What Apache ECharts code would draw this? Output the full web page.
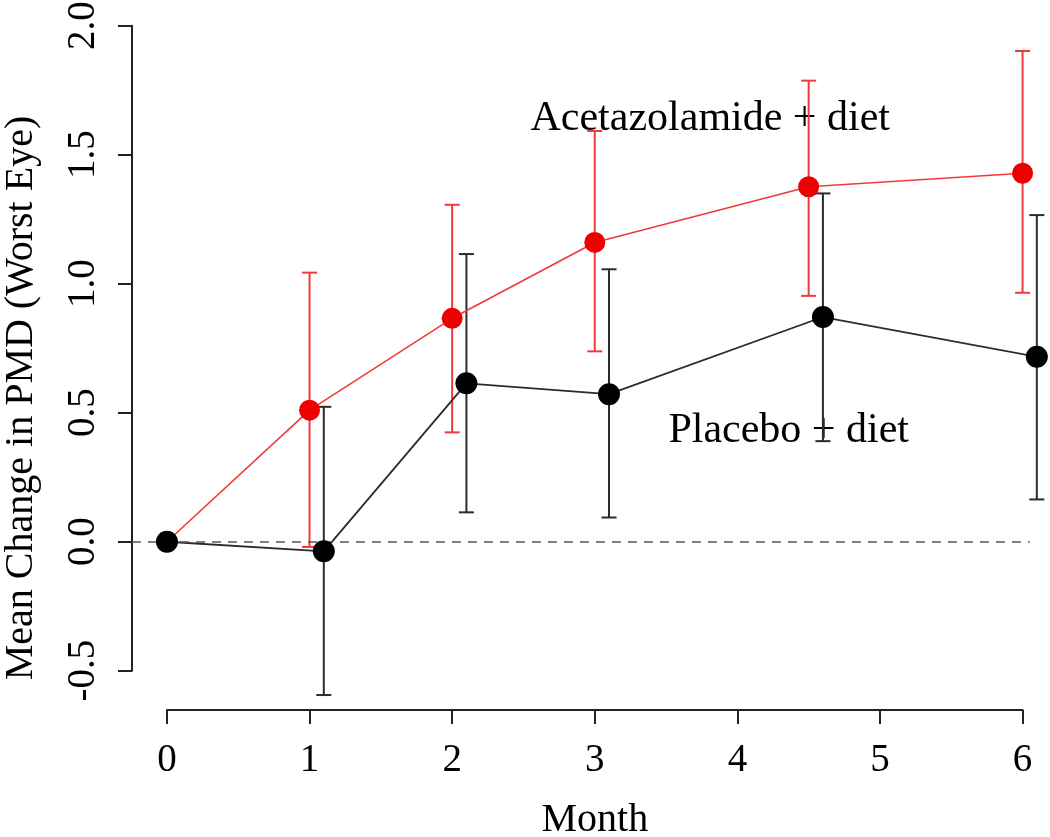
<!DOCTYPE html>
<html><head><meta charset="utf-8">
<script src="https://cdn.jsdelivr.net/npm/echarts@6/dist/echarts.min.js"></script>
<style>html,body{margin:0;padding:0;background:#fff}#c{width:1050px;height:837px}</style>
</head><body><div id="c"></div><script>
// ---- data ----
const acetaMonths = [0, 1, 2, 3, 4.5, 6];
const acetaMean   = [0, 0.51, 0.866, 1.16, 1.376, 1.428];
const acetaLower  = [null, -0.02, 0.424, 0.738, 0.953, 0.965];
const acetaUpper  = [null, 1.043, 1.306, 1.592, 1.787, 1.902];

const placeboMonths = [0, 1.1, 2.1, 3.1, 4.6, 6.1];
const placeboMean   = [0, -0.037, 0.614, 0.572, 0.871, 0.717];
const placeboLower  = [null, -0.594, 0.114, 0.094, 0.39, 0.164];
const placeboUpper  = [null, 0.523, 1.115, 1.056, 1.35, 1.266];

const xTicks = [0, 1, 2, 3, 4, 5, 6];
const yTicks = [-0.5, 0, 0.5, 1, 1.5, 2];
const annoLabels = ['Acetazolamide + diet', 'Placebo + diet'];
const annoPos = [[3.81, 1.64], [4.36, 0.43]];
const xTitle = 'Month';
const yTitle = 'Mean Change in PMD (Worst Eye)';

// ---- styling ----
const FONT = "'Liberation Serif','Times New Roman',serif";
const RED = '#ee0000', REDLINE = '#f03a3a', BLACK = '#000', DARK = '#2b2b2b';

function pts(xs, ys) { return xs.map((x, i) => [x, ys[i]]); }
function bars(xs, lo, hi) {
  const out = [];
  xs.forEach((x, i) => { if (lo[i] != null) out.push([x, lo[i], hi[i]]); });
  return out;
}
function errRender(color) {
  return function (params, api) {
    const x = api.value(0);
    const a = api.coord([x, api.value(1)]);
    const b = api.coord([x, api.value(2)]);
    const hw = 7.5;
    const st = { stroke: color, lineWidth: 2 };
    return { type: 'group', children: [
      { type: 'line', shape: { x1: a[0], y1: a[1], x2: b[0], y2: b[1] }, style: st },
      { type: 'line', shape: { x1: a[0] - hw, y1: a[1], x2: a[0] + hw, y2: a[1] }, style: st },
      { type: 'line', shape: { x1: b[0] - hw, y1: b[1], x2: b[0] + hw, y2: b[1] }, style: st }
    ]};
  };
}

const chart = echarts.init(document.getElementById('c'), null, { renderer: 'canvas' });
const axLine = { show: true, onZero: false, lineStyle: { color: '#222', width: 2 } };
const axTick = { show: true, length: 14, lineStyle: { color: '#222', width: 2 } };
const G = { outerBoundsMode: 'none', containLabel: false };
const option = {
  animation: false,
  backgroundColor: '#fff',
  grid: [
    Object.assign({ left: 132, right: 20.3, top: 25.7, bottom: 127 }, G),   // data
    Object.assign({ left: 167, right: 27.4, top: 25.7, bottom: 127 }, G),   // x axis display
    Object.assign({ left: 132, right: 20.3, top: 25.7, bottom: 166.3 }, G), // y axis display
    Object.assign({ left: 132, right: 20.3, top: 125, bottom: 166 }, G)     // y axis title
  ],
  xAxis: [
    { gridIndex: 0, type: 'value', min: -0.245, max: 6.05, show: false },
    { gridIndex: 1, type: 'value', min: xTicks[0], max: xTicks[xTicks.length - 1], interval: 1,
      axisLine: axLine, axisTick: axTick, splitLine: { show: false },
      axisLabel: { color: '#000', fontFamily: FONT, fontSize: 39, margin: 31 },
      name: xTitle, nameLocation: 'middle', nameGap: 90,
      nameTextStyle: { color: '#000', fontFamily: FONT, fontSize: 40 } },
    { gridIndex: 2, type: 'value', min: 0, max: 1, show: false },
    { gridIndex: 3, type: 'value', min: 0, max: 1, show: false }
  ],
  yAxis: [
    { gridIndex: 0, type: 'value', min: -0.652, max: 2.0, show: false },
    { gridIndex: 1, type: 'value', min: -0.652, max: 2.0, show: false },
    { gridIndex: 2, type: 'value', min: yTicks[0], max: yTicks[yTicks.length - 1], interval: 0.5,
      axisLine: axLine, axisTick: axTick, splitLine: { show: false },
      axisLabel: { color: '#000', fontFamily: FONT, fontSize: 39, rotate: 90, margin: 29,
        formatter: v => v.toFixed(1) } },
    { gridIndex: 3, type: 'value', min: 0, max: 1,
      axisLine: { show: false }, axisTick: { show: false }, axisLabel: { show: false },
      splitLine: { show: false },
      name: yTitle, nameLocation: 'middle', nameGap: 91, nameRotate: 90,
      nameTextStyle: { color: '#000', fontFamily: FONT, fontSize: 40 } }
  ],
  series: [
    { type: 'scatter', xAxisIndex: 0, yAxisIndex: 0, z: 1, symbolSize: 0, silent: true,
      itemStyle: { opacity: 1 },
      data: annoPos.map((p, i) => ({ value: p, name: annoLabels[i] })),
      label: { show: true, position: 'inside', formatter: p => p.name, color: '#000',
        textBorderWidth: 0, fontFamily: FONT, fontSize: 42 } },
    { type: 'line', xAxisIndex: 0, yAxisIndex: 0, z: 1, data: [], silent: true,
      markLine: { silent: true, symbol: 'none', label: { show: false },
        lineStyle: { color: '#555', width: 1.5, type: [9, 7] }, data: [{ yAxis: 0 }] } },
    { type: 'custom', xAxisIndex: 0, yAxisIndex: 0, z: 2, renderItem: errRender(REDLINE),
      data: bars(acetaMonths, acetaLower, acetaUpper), clip: false },
    { type: 'custom', xAxisIndex: 0, yAxisIndex: 0, z: 3, renderItem: errRender(DARK),
      data: bars(placeboMonths, placeboLower, placeboUpper), clip: false },
    { type: 'line', xAxisIndex: 0, yAxisIndex: 0, z: 4, showSymbol: false, clip: false,
      data: pts(acetaMonths, acetaMean), lineStyle: { color: REDLINE, width: 1.6 } },
    { type: 'line', xAxisIndex: 0, yAxisIndex: 0, z: 4, showSymbol: false, clip: false,
      data: pts(placeboMonths, placeboMean), lineStyle: { color: DARK, width: 1.8 } },
    { type: 'scatter', xAxisIndex: 0, yAxisIndex: 0, z: 5, symbol: 'circle', symbolSize: 21, clip: false,
      data: pts(acetaMonths, acetaMean), itemStyle: { color: RED, opacity: 1 } },
    { type: 'scatter', xAxisIndex: 0, yAxisIndex: 0, z: 6, symbol: 'circle', symbolSize: 22, clip: false,
      data: pts(placeboMonths, placeboMean), itemStyle: { color: BLACK, opacity: 1 } }
  ]
};
chart.setOption(option);
</script></body></html>
